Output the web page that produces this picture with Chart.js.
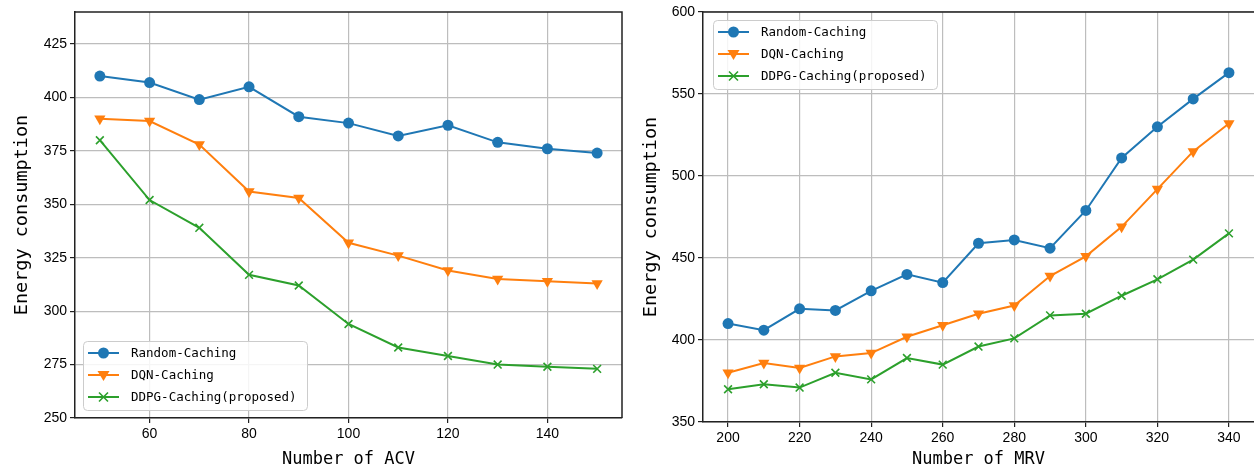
<!DOCTYPE html>
<html>
<head>
<meta charset="utf-8">
<script src="https://cdn.jsdelivr.net/npm/chart.js@4.4.0/dist/chart.umd.min.js"></script>
<style>
  html, body { margin: 0; padding: 0; background: #fff; overflow: hidden; }
  #wrap { position: relative; width: 1254px; height: 473px; }
  #acvBox { position: absolute; left: 0; top: 0; }
  #mrvBox { position: absolute; left: 629px; top: 0; }
</style>
</head>
<body>
<div id="wrap">
  <div id="acvBox"><canvas id="acvChart" width="625" height="473"></canvas></div>
  <div id="mrvBox"><canvas id="mrvChart" width="625" height="473"></canvas></div>
</div>
<script>
// Data: left panel (number of ACV)
const acvCounts = [50, 60, 70, 80, 90, 100, 110, 120, 130, 140, 150];
const acvRandom = [410, 407, 399, 405, 391, 388, 382, 387, 379, 376, 374];
const acvDqn    = [390, 389, 378, 356, 353, 332, 326, 319, 315, 314, 313];
const acvDdpg   = [380, 352, 339, 317, 312, 294, 283, 279, 275, 274, 273];
const acvXTicks = [60, 80, 100, 120, 140];
const acvYTicks = [250, 275, 300, 325, 350, 375, 400, 425];

// Data: right panel (number of MRV)
const mrvCounts = [200, 210, 220, 230, 240, 250, 260, 270, 280, 290, 300, 310, 320, 330, 340];
const mrvRandom = [410, 406, 419, 418, 430, 440, 435, 459, 461, 456, 479, 511, 530, 547, 563];
const mrvDqn    = [380, 386, 383, 390, 392, 402, 409, 416, 421, 439, 451, 469, 492, 515, 532];
const mrvDdpg   = [370, 373, 371, 380, 376, 389, 385, 396, 401, 415, 416, 427, 437, 449, 465];
const mrvXTicks = [200, 220, 240, 260, 280, 300, 320, 340];
const mrvYTicks = [350, 400, 450, 500, 550, 600];

const seriesNames = ['Random-Caching', 'DQN-Caching', 'DDPG-Caching(proposed)'];
const colors = ['#1f77b4', '#ff7f0e', '#2ca02c'];

const monoFont = '"DejaVu Sans Mono", "Liberation Mono", monospace';
const tickFont = { family: '"Liberation Sans", Arial, sans-serif', size: 14 };

function makeSets(xs, ys) {
    return ys.map((vals, i) => ({
        label: seriesNames[i],
        data: xs.map((x, k) => ({ x: x, y: vals[k] })),
        borderColor: colors[i],
        backgroundColor: colors[i],
        borderWidth: 2,
        pointStyle: ['circle', 'triangle', 'crossRot'][i],
        pointRadius: [5.5, 6.5, 5.5][i],
        pointRotation: i === 1 ? 180 : 0,
        pointBorderWidth: i === 2 ? 1.6 : 0,
        pointHoverRadius: 6,
        tension: 0
    }));
}

// draws the box spines (top / right) and the matplotlib style legend
const framePlugin = {
    id: 'frame',
    afterDraw(chart, args, opts) {
        const { ctx, chartArea: a } = chart;
        ctx.save();
        ctx.strokeStyle = '#222';
        ctx.lineWidth = 1.5;
        ctx.beginPath();
        ctx.moveTo(a.left, a.top);
        ctx.lineTo(a.right, a.top);
        if (opts.rightSpine) ctx.lineTo(a.right, a.bottom);
        ctx.stroke();

        // legend
        const bw = 224, bh = 69;
        const bx = a.left + opts.dx;
        const by = opts.corner === 'bottom' ? a.bottom - opts.dy - bh : a.top + opts.dy;
        ctx.beginPath();
        ctx.roundRect(bx + 0.5, by + 0.5, bw, bh, 4);
        ctx.fillStyle = 'rgba(255,255,255,0.85)';
        ctx.fill();
        ctx.strokeStyle = '#cccccc';
        ctx.lineWidth = 1;
        ctx.stroke();

        ctx.font = '12.5px ' + monoFont;
        ctx.textBaseline = 'middle';
        chart.data.datasets.forEach((ds, i) => {
            const y = by + 12 + i * 22;
            const x0 = bx + 5, x1 = bx + 36, xm = (x0 + x1) / 2;
            ctx.strokeStyle = ds.borderColor;
            ctx.fillStyle = ds.borderColor;
            ctx.lineWidth = 2;
            ctx.beginPath();
            ctx.moveTo(x0, y);
            ctx.lineTo(x1, y);
            ctx.stroke();
            ctx.beginPath();
            if (i === 0) {
                ctx.arc(xm, y, 5.5, 0, Math.PI * 2);
                ctx.fill();
            } else if (i === 1) {
                ctx.moveTo(xm - 6, y - 4);
                ctx.lineTo(xm + 6, y - 4);
                ctx.lineTo(xm, y + 6);
                ctx.closePath();
                ctx.fill();
            } else {
                ctx.lineWidth = 1.6;
                ctx.moveTo(xm - 4.5, y - 4.5);
                ctx.lineTo(xm + 4.5, y + 4.5);
                ctx.moveTo(xm + 4.5, y - 4.5);
                ctx.lineTo(xm - 4.5, y + 4.5);
                ctx.stroke();
            }
            ctx.fillStyle = '#000';
            ctx.fillText(ds.label, bx + 48, y + 1);
        });
        ctx.restore();
    }
};

function makeChart(id, cfg) {
    return new Chart(document.getElementById(id), {
        type: 'line',
        data: { datasets: makeSets(cfg.xs, cfg.ys) },
        plugins: [framePlugin],
        options: {
            responsive: false,
            devicePixelRatio: 1,
            animation: false,
            layout: { autoPadding: false, padding: cfg.padding },
            plugins: {
                legend: { display: false },
                tooltip: { enabled: false },
                frame: cfg.frame
            },
            scales: {
                x: {
                    type: 'linear',
                    min: cfg.xMin,
                    max: cfg.xMax,
                    afterBuildTicks: s => { s.ticks = cfg.xTicks.map(v => ({ value: v })); },
                    afterFit: s => { s.height = cfg.xHeight; s.paddingLeft = 0; s.paddingRight = 0; },
                    grid: { color: '#bdbdbd', lineWidth: 1.2, tickLength: 5, tickColor: '#222' },
                    border: { color: '#222', width: 1.5 },
                    ticks: { color: '#000', font: tickFont, padding: 3, maxRotation: 0 },
                    title: {
                        display: true,
                        text: cfg.xTitle,
                        color: '#000',
                        font: { family: monoFont, size: 17 },
                        padding: { top: 0, bottom: 3 }
                    }
                },
                y: {
                    min: cfg.yMin,
                    max: cfg.yMax,
                    afterBuildTicks: s => { s.ticks = cfg.yTicks.map(v => ({ value: v })); },
                    afterFit: s => { s.width = cfg.yWidth; s.paddingTop = 0; s.paddingBottom = 0; },
                    grid: { color: '#bdbdbd', lineWidth: 1.2, tickLength: 5, tickColor: '#222' },
                    border: { color: '#222', width: 1.5 },
                    ticks: { color: '#000', font: tickFont, padding: 3 },
                    title: {
                        display: true,
                        text: 'Energy consumption',
                        color: '#000',
                        font: { family: monoFont, size: 18.5 },
                        padding: { top: 11, bottom: 0 }
                    }
                }
            }
        }
    });
}

makeChart('acvChart', {
    xs: acvCounts,
    ys: [acvRandom, acvDqn, acvDdpg],
    xMin: 45, xMax: 155, yMin: 250, yMax: 440,
    xTicks: acvXTicks, yTicks: acvYTicks,
    xTitle: 'Number of ACV',
    yWidth: 75, xHeight: 55,
    padding: { left: 0, right: 3, top: 12, bottom: 0 },
    frame: { rightSpine: true, corner: 'bottom', dx: 8, dy: 8 }
});

makeChart('mrvChart', {
    xs: mrvCounts,
    ys: [mrvRandom, mrvDqn, mrvDdpg],
    xMin: 193, xMax: 347, yMin: 350, yMax: 600,
    xTicks: mrvXTicks, yTicks: mrvYTicks,
    xTitle: 'Number of MRV',
    yWidth: 74, xHeight: 51,
    padding: { left: 0, right: 0, top: 12, bottom: 0 },
    frame: { rightSpine: false, corner: 'top', dx: 10, dy: 8 }
});
</script>
</body>
</html>
